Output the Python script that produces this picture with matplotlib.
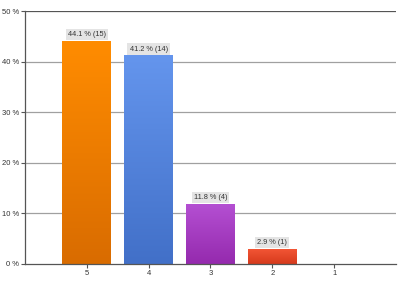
import numpy as np
import matplotlib.pyplot as plt
from matplotlib.colors import LinearSegmentedColormap

plt.rcParams['font.family'] = ['Liberation Sans', 'DejaVu Sans']

categories = ['5', '4', '3', '2', '1']
percents = [44.1, 41.2, 11.8, 2.9, 0.0]
counts = [15, 14, 4, 1, 0]
top_colors = ['#ff8c00', '#6495ed', '#b44fd2', '#f25535', '#cccccc']
bottom_colors = ['#d96c00', '#4270c8', '#952aae', '#d63a1c', '#aaaaaa']
yticks = [0, 10, 20, 30, 40, 50]

fig = plt.figure(figsize=(4.04, 2.85), dpi=100)
ax = fig.add_axes([0.062, 0.074, 0.918, 0.887])

xs = np.arange(1, len(categories) + 1)
width = 0.79
grad = np.linspace(0, 1, 100).reshape(-1, 1)

for x, p, n, ct, cb in zip(xs, percents, counts, top_colors, bottom_colors):
    if p <= 0:
        continue
    cmap = LinearSegmentedColormap.from_list('g', [cb, ct])
    ax.imshow(grad, cmap=cmap, origin='lower', aspect='auto',
              extent=[x - width / 2, x + width / 2, 0, p], zorder=3)
    ax.text(x, p + 0.6, '%.1f %% (%d)' % (p, n), ha='center', va='bottom',
            fontsize=5.3, color='#333333', zorder=4,
            bbox=dict(boxstyle='square,pad=0.3', facecolor='#e4e4e4', edgecolor='none'))

ax.set_xlim(0, len(categories) + 1)
ax.set_ylim(0, 50)
ax.set_xticks(xs)
ax.set_xticklabels(categories)
ax.set_yticks(yticks)
ax.set_yticklabels(['%d %%' % t for t in yticks])
ax.tick_params(axis='both', labelsize=5.5, colors='#555555', length=3, width=0.8, pad=1.5)
ax.tick_params(axis='x', labelcolor='#333333')
ax.tick_params(axis='y', labelcolor='#333333')

for t in yticks[1:]:
    ax.axhline(t, color='#a0a0a0' if t < 50 else '#555555', lw=0.9, zorder=1)

for s in ['top', 'right']:
    ax.spines[s].set_visible(False)
for s in ['left', 'bottom']:
    ax.spines[s].set_color('#555555')
    ax.spines[s].set_linewidth(0.9)
ax.spines['bottom'].set_zorder(5)

fig.savefig('out.png', dpi=100)
